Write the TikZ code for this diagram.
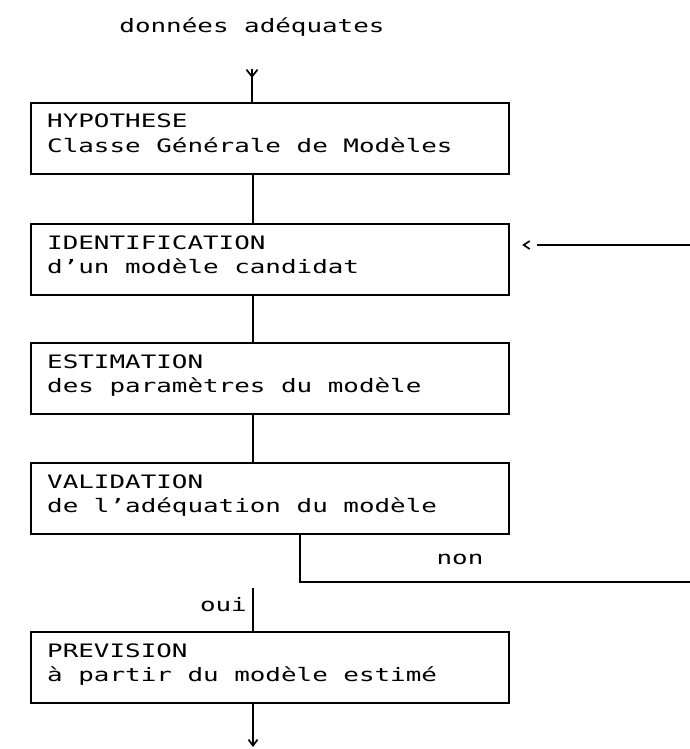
\documentclass[tikz,border=0pt]{standalone}
\usepackage{fontspec}
\newfontfamily\plotfont[FakeStretch=1.40]{DejaVu Sans Mono}
\usetikzlibrary{arrows.meta,decorations.markings}
\begin{document}
\begin{tikzpicture}[x=1pt,y=-1pt,
  every node/.style={font=\plotfont\fontsize{18.5}{24}\selectfont},
  box/.style={draw, line width=1.7pt, minimum width=478pt, minimum height=71pt,
              inner sep=0pt, anchor=north west},
  txt/.style={anchor=base west, inner sep=0pt},
  wire/.style={line width=1.7pt},
  barb/.style={-{Straight Barb[length=6pt,width=9pt]}}]
\useasboundingbox (0,0) rectangle (690,749);

% title and entry arrow
\node[anchor=base, inner sep=0pt] (title) at (252,33) {données adéquates};
\coordinate (topIn) at (252,69);

% process boxes
\node[box] (hyp)   at (30,102) {};
\node[box] (ident) at (30,223) {};
\node[box] (estim) at (30,342) {};
\node[box] (valid) at (30,462) {};
\node[box] (prev)  at (30,631) {};

\node[txt] (hypA)   at ([shift={(17,26)}]hyp.north west)   {HYPOTHESE};
\node[txt] (hypB)   at ([shift={(17,50)}]hyp.north west)   {Classe Générale de Modèles};
\node[txt] (identA) at ([shift={(17,26)}]ident.north west) {IDENTIFICATION};
\node[txt] (identB) at ([shift={(17,50)}]ident.north west) {d’un modèle candidat};
\node[txt] (estimA) at ([shift={(17,26)}]estim.north west) {ESTIMATION};
\node[txt] (estimB) at ([shift={(17,50)}]estim.north west) {des paramètres du modèle};
\node[txt] (validA) at ([shift={(17,26)}]valid.north west) {VALIDATION};
\node[txt] (validB) at ([shift={(17,50)}]valid.north west) {de l’adéquation du modèle};
\node[txt] (prevA)  at ([shift={(17,26)}]prev.north west)  {PREVISION};
\node[txt] (prevB)  at ([shift={(17,50)}]prev.north west)  {à partir du modèle estimé};

% connector columns
\coordinate (cx) at (253,0);
\coordinate (nx) at (300,0);

% entry arrow, head drawn partway down the line
\draw[wire, postaction=decorate,
      decoration={markings, mark=at position 9pt with {\arrow{Straight Barb[length=7pt,width=11pt]}}}]
  (topIn) -- (topIn |- hyp.north);

% main chain
\draw[wire] (hyp.south -| cx)   -- (ident.north -| cx);
\draw[wire] (ident.south -| cx) -- (estim.north -| cx);
\draw[wire] (estim.south -| cx) -- (valid.north -| cx);

% "non" branch leaving to the right
\coordinate (nonOut) at (690,582);
\draw[wire] (valid.south -| nx) |- (nonOut);
\node[anchor=base, inner sep=0pt] (nonLbl) at (460,564) {non};

% "oui" branch
\coordinate (ouiTop) at (253,588);
\draw[wire] (ouiTop) -- (ouiTop |- prev.north);
\node[anchor=base east, inner sep=0pt] (ouiLbl) at (247,611) {oui};

% feedback returning to the identification step
\coordinate (fbIn) at (690,245);
\coordinate (fbTip) at ([xshift=14pt]ident.east |- fbIn);
\coordinate (fbGap) at ([xshift=13pt]fbTip);
\draw[wire] (fbIn) -- (fbGap);
\draw[wire] ([shift={(6,-4)}]fbTip) -- (fbTip) -- ([shift={(6,4)}]fbTip);

% exit arrow
\coordinate (outEnd) at (253,747);
\draw[wire, barb] (prev.south -| cx) -- (outEnd);
\end{tikzpicture}
\end{document}
